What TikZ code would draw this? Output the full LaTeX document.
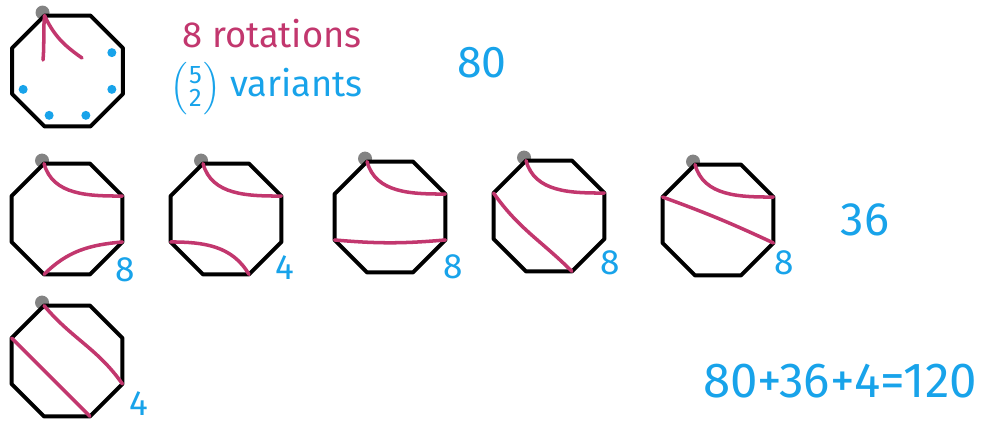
\documentclass[tikz,border=0pt]{standalone}
\usepackage{amsmath}
\usepackage{fontspec}
\setmainfont{Fira Sans}
\usetikzlibrary{calc,positioning}
\definecolor{ink}{HTML}{C2376E}
\definecolor{sky}{HTML}{18A3EA}
\definecolor{pin}{HTML}{767676}

\newcommand{\octo}[2]{%
  \coordinate (#1) at (#2);
  \foreach \k in {0,...,7} \coordinate (#1-\k) at ($(#1)+({-112.5+45*\k}:60)$);
  \fill[pinfill] ($(#1-0)+(-2,-3)$) circle (7);
  \draw[oct] (#1-0)--(#1-1)--(#1-2)--(#1-3)--(#1-4)--(#1-5)--(#1-6)--(#1-7)--cycle;
}

\begin{document}
\begin{tikzpicture}[x=0.03cm,y=-0.03cm,
  oct/.style={line width=3.4pt,line join=round,draw=black},
  pinfill/.style={fill=pin,opacity=0.9},
  ch/.style={line width=3pt,draw=ink,line cap=round},
  dot/.style={fill=sky},
  lbl/.style={inner sep=0pt,font=\fontsize{31}{34}\selectfont},
  num/.style={inner sep=0pt,text=sky,font=\fontsize{30}{30}\selectfont},
  big/.style={inner sep=0pt,text=sky,font=\fontsize{38}{38}\selectfont}]
  \useasboundingbox (0,0) rectangle (982,424);
  \octo{q}{67.5,71}
  \octo{a}{67,219}
  \octo{b}{226,219}
  \octo{c}{390,217}
  \octo{d}{549,216}
  \octo{e}{718,220}
  \octo{f}{67,361}
  \coordinate (qa) at (43,60);
  \coordinate (qb) at (82,58);
  \draw[ch] (q-0) to[out=-95,in=85] (qa);
  \draw[ch] (q-0) to[out=-65,in=145] (qb);
  \foreach \k in {2,...,6} \fill[dot] ($(q)+({-112.5+45*\k}:48)$) circle (4.5);
  \node[lbl,text=ink] (rot) at (272,34) {8 rotations};
  \node[lbl,text=sky,anchor=west] (var) at (170,89) {$\Bigl(\genfrac{}{}{0pt}{1}{\text{5}}{\text{2}}\Bigr)$ variants};
  \node[big] (n80) at (482,63) {80};
  \draw[ch] (a-0) to[out=-75,in=180] (a-2);
  \draw[ch] (a-5) to[out=45,in=185] (a-3);
  \draw[ch] (b-0) to[out=-75,in=180] (b-2);
  \draw[ch] (b-6) to[out=0,in=120] (b-4);
  \draw[ch] (c-0) to[out=-75,in=180] (c-2);
  \draw[ch] (c-6) to[out=-5,in=185] (c-3);
  \draw[ch] (d-0) to[out=-75,in=180] (d-2);
  \draw[ch] (d-7) to[out=-55,in=135] (d-4);
  \draw[ch] (e-0) to[out=-75,in=180] (e-2);
  \draw[ch] (e-7) to[out=-20,in=155] (e-3);
  \draw[ch] (f-0) to[out=-50,in=125] (f-3);
  \draw[ch] (f-7) -- (f-4);
  \node[num] (ka) at (125,270) {8};
  \node[num] (kb) at (285,268) {4};
  \node[num] (kc) at (453,267) {8};
  \node[num] (kd) at (610,263) {8};
  \node[num] (ke) at (784,263) {8};
  \node[num] (kf) at (139,404) {4};
  \node[big,font=\fontsize{40}{40}\selectfont] (n36) at (865,220) {36};
  \node[big,font=\fontsize{42}{42}\selectfont] (sum) at (840,381) {80+36+4=120};
\end{tikzpicture}
\end{document}
